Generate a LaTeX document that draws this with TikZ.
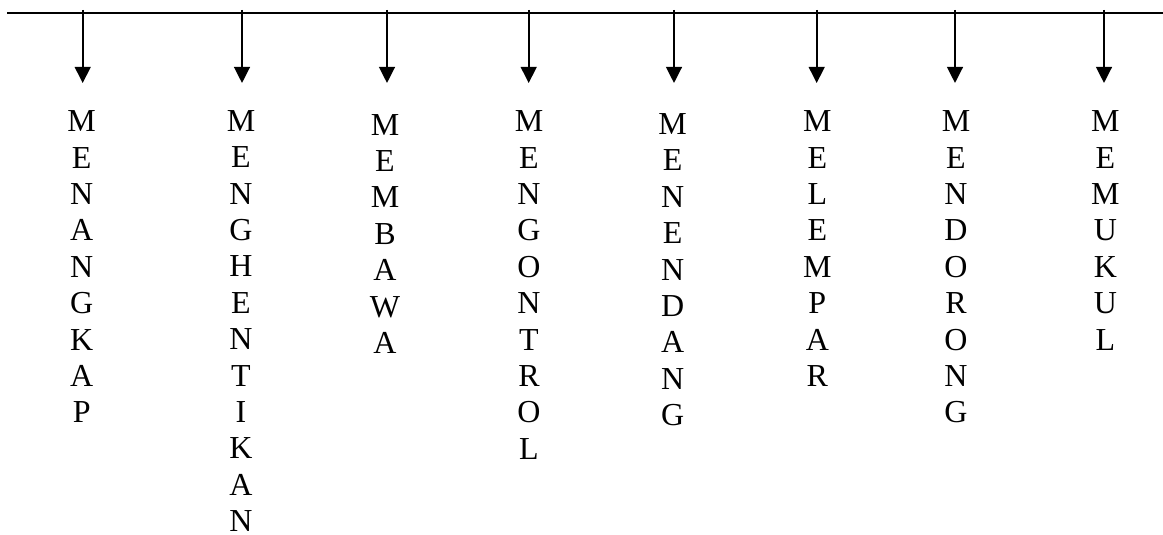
\documentclass[tikz,border=0pt]{standalone}
\usepackage{fontspec}
\setmainfont{Liberation Serif}
\usetikzlibrary{arrows.meta}
\begin{document}
\begin{tikzpicture}[x=0.75pt,y=-0.75pt,
  mainline/.style={line width=1.25pt,black},
  droparrow/.style={line width=1.5pt,black,-{Triangle[width=11.8pt,length=12pt]}},
  letter/.style={anchor=base,inner sep=0pt,font=\fontsize{24pt}{27.6pt}\selectfont}]
\useasboundingbox (0,0) rectangle (1163,535);
\coordinate (L) at (7,13.3);
\coordinate (R) at (1163,13.3);
\draw[mainline] (L) -- (R);
\foreach \ax/\tx/\by/\word [count=\c] in {
  82.7/81.7/131.7/{M,E,N,A,N,G,K,A,P},
  242/241/131.2/{M,E,N,G,H,E,N,T,I,K,A,N},
  387/385/135/{M,E,M,B,A,W,A},
  528.7/529/131.7/{M,E,N,G,O,N,T,R,O,L},
  674/672.7/134.4/{M,E,N,E,N,D,A,N,G},
  816.7/817.3/131.7/{M,E,L,E,M,P,A,R},
  955/956/131.7/{M,E,N,D,O,R,O,N,G},
  1104/1105.3/131.7/{M,E,M,U,K,U,L}}{
  \coordinate (t\c) at (\ax,10);
  \coordinate (h\c) at (\ax,83);
  \draw[droparrow] (t\c) -- (h\c);
  \foreach \l [count=\i from 0] in \word {
    \node[letter] (w\c-\i) at (\tx,\by+\i*36.4) {\l};
  }
}
\end{tikzpicture}
\end{document}
